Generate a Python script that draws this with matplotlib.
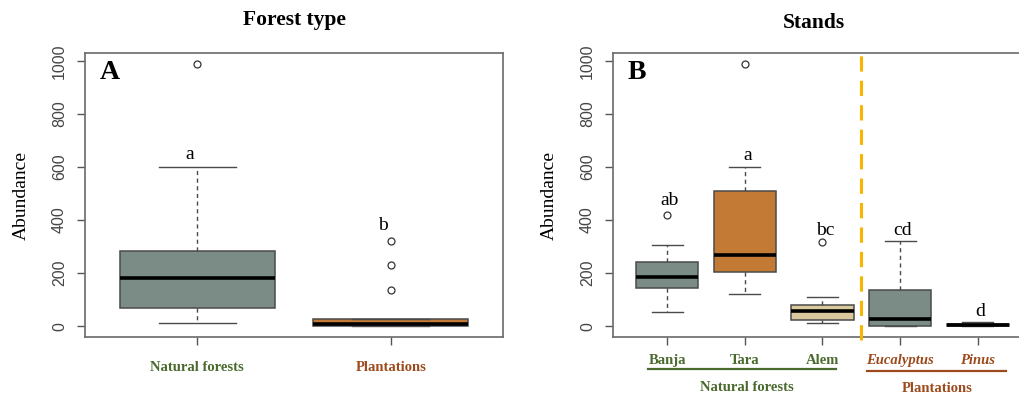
import matplotlib
matplotlib.use("Agg")
import matplotlib.pyplot as plt
from matplotlib.transforms import blended_transform_factory

# ── Data ────────────────────────────────────────────────────────────────────
type_names = ["Natural forests", "Plantations"]
type_q1 = [70, 0]
type_med = [182, 9]
type_q3 = [283, 25]
type_lo = [10, 0]
type_hi = [602, 28]
type_fliers = [[987], [322, 230, 136]]
type_letters = ["a", "b"]
type_letter_y = [648, 378]

stand_names = ["Banja", "Tara", "Alem", "Eucalyptus", "Pinus"]
stand_q1 = [142, 205, 24, 0, 0]
stand_med = [186, 268, 57, 25, 5]
stand_q3 = [240, 509, 80, 135, 8]
stand_lo = [55, 122, 10, 0, 0]
stand_hi = [307, 602, 109, 322, 16]
stand_fliers = [[419], [987], [318], [], []]
stand_letters = ["ab", "a", "bc", "cd", "d"]
stand_letter_y = [475, 645, 362, 360, 56]

# ── Style ───────────────────────────────────────────────────────────────────
GREYGREEN = "#7b8c86"
ORANGE = "#c27a35"
TAN = "#d9c99c"
GREEN_TXT = "#4b6a2e"
BROWN_TXT = "#9c4a1c"
EDGE = "#4a4a4a"
SERIF = "Liberation Serif"
SANS = "Liberation Sans"

type_colors = [GREYGREEN, ORANGE]
type_txt_colors = [GREEN_TXT, BROWN_TXT]
stand_colors = [GREYGREEN, ORANGE, TAN, GREYGREEN, GREYGREEN]
stand_txt_colors = [GREEN_TXT] * 3 + [BROWN_TXT] * 2
stand_italic = [False, False, False, True, True]


def make_stats(names, q1, med, q3, lo, hi, fliers):
    return [
        dict(label=n, q1=a, med=m, q3=b, whislo=l, whishi=h, fliers=f)
        for n, a, m, b, l, h, f in zip(names, q1, med, q3, lo, hi, fliers)
    ]


def draw_boxes(ax, stats, colors):
    pos = list(range(1, len(stats) + 1))
    bp = ax.bxp(
        stats, positions=pos, widths=0.8, patch_artist=True,
        boxprops=dict(edgecolor=EDGE, linewidth=1.1),
        medianprops=dict(color="black", linewidth=2.6, solid_capstyle="butt"),
        whiskerprops=dict(color=EDGE, linewidth=1.0, linestyle=(0, (3, 2.5))),
        capprops=dict(color=EDGE, linewidth=1.0),
        capwidths=0.4,
        flierprops=dict(marker="o", markersize=5, markerfacecolor="none",
                        markeredgecolor="#333333", markeredgewidth=0.9),
    )
    for patch, c in zip(bp["boxes"], colors):
        patch.set_facecolor(c)
    return pos


def style_axes(ax, n):
    ax.set_xlim(0.5 - 0.04 * n, n + 0.5 + 0.04 * n)
    ax.set_ylim(-41, 1030)
    ax.set_yticks([0, 200, 400, 600, 800, 1000])
    for lab in ax.get_yticklabels():
        lab.set_rotation(90)
        lab.set_va("center")
        lab.set_family(SANS)
        lab.set_fontsize(11.5)
        lab.set_color("#454545")
    ax.tick_params(axis="both", direction="out", length=6, width=1.0,
                   color="#555555", pad=7)
    for s in ax.spines.values():
        s.set_color("#6a6a6a")
        s.set_linewidth(1.2)
    ax.set_ylabel("Abundance", family=SERIF, fontsize=14, labelpad=16)


fig = plt.figure(figsize=(10.19, 4.01), dpi=100)
axA = fig.add_axes([0.0834, 0.1596, 0.4102, 0.7082])
axB = fig.add_axes([0.6016, 0.1596, 0.4111, 0.7082])

# ── Panel A ─────────────────────────────────────────────────────────────────
posA = draw_boxes(axA, make_stats(type_names, type_q1, type_med, type_q3,
                                  type_lo, type_hi, type_fliers), type_colors)
style_axes(axA, len(type_names))
axA.set_xticks(posA)
axA.set_xticklabels(type_names, family=SERIF, fontweight="bold", fontsize=10.5)
axA.tick_params(axis="x", pad=11)
for lab, c in zip(axA.get_xticklabels(), type_txt_colors):
    lab.set_color(c)
for x, t, y in zip(posA, type_letters, type_letter_y):
    axA.text(x - 0.04, y, t, family=SERIF, fontsize=14, ha="center", va="center")
axA.text(0.035, 0.93, "A", transform=axA.transAxes, family=SERIF,
         fontweight="bold", fontsize=20, va="center", ha="left")
axA.set_title("Forest type", family=SERIF, fontweight="bold", fontsize=15.5, pad=20)

# ── Panel B ─────────────────────────────────────────────────────────────────
posB = draw_boxes(axB, make_stats(stand_names, stand_q1, stand_med, stand_q3,
                                  stand_lo, stand_hi, stand_fliers), stand_colors)
style_axes(axB, len(stand_names))
axB.set_xticks(posB)
axB.set_xticklabels(stand_names, family=SERIF, fontweight="bold", fontsize=10.5)
axB.tick_params(axis="x", pad=6)
for lab, c, it in zip(axB.get_xticklabels(), stand_txt_colors, stand_italic):
    lab.set_color(c)
    if it:
        lab.set_style("italic")
for x, t, y in zip(posB, stand_letters, stand_letter_y):
    axB.text(x + 0.03, y, t, family=SERIF, fontsize=14, ha="center", va="center")
axB.text(0.035, 0.93, "B", transform=axB.transAxes, family=SERIF,
         fontweight="bold", fontsize=20, va="center", ha="left")
axB.set_title("Stands", family=SERIF, fontweight="bold", fontsize=15.5, pad=18,
              x=0.48)

# separator between natural forests and plantations
axB.plot([3.5, 3.5], [-52, 1042], color="#f7b500", linewidth=2.2,
         linestyle=(0, (5, 3)), clip_on=False, zorder=5)

# group underlines and labels
trB = blended_transform_factory(axB.transData, axB.transAxes)
axB.plot([0.75, 3.17], [-0.112, -0.112], transform=trB, color="#4b6a2e",
         linewidth=1.6, clip_on=False)
axB.plot([3.57, 5.36], [-0.118, -0.118], transform=trB, color="#9c4a1c",
         linewidth=1.6, clip_on=False)
axB.text(2.03, -0.178, "Natural forests", transform=trB, family=SERIF,
         fontweight="bold", fontsize=10.5, color=GREEN_TXT, ha="center", va="center")
axB.text(4.48, -0.182, "Plantations", transform=trB, family=SERIF,
         fontweight="bold", fontsize=10.5, color=BROWN_TXT, ha="center", va="center")

fig.savefig("out.png", dpi=100)
